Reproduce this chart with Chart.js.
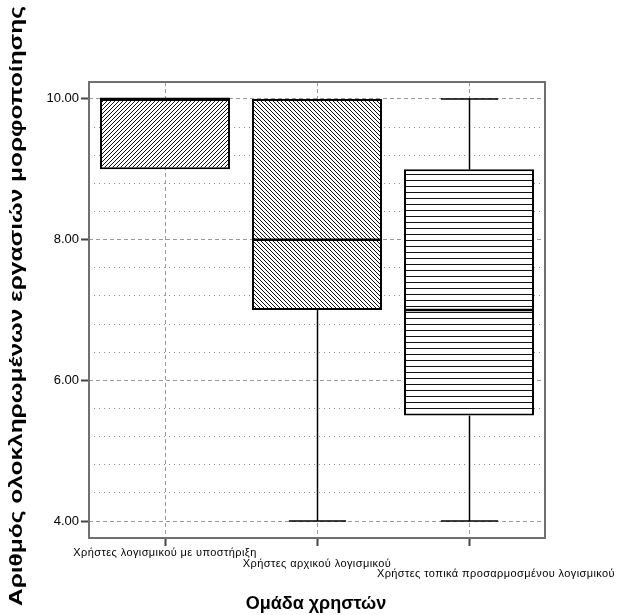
<!DOCTYPE html>
<html>
<head>
<meta charset="utf-8">
<script src="https://cdn.jsdelivr.net/npm/chart.js@4.4.1/dist/chart.umd.min.js"></script>
<style>
  html, body { margin: 0; padding: 0; background: #fff; }
  #wrap { width: 622px; height: 615px; }
</style>
</head>
<body>
<div id="wrap"><canvas id="boxplot" width="622" height="615"></canvas></div>
<script>
// groups and five-number summaries
const groups = ['Χρήστες λογισμικού με υποστήριξη', 'Χρήστες αρχικού λογισμικού', 'Χρήστες τοπικά προσαρμοσμένου λογισμικού'];
const minValues = [9, 4, 4];
const q1Values = [9, 7, 5.5];
const medianValues = [10, 8, 7];
const q3Values = [10, 10, 9];
const maxValues = [10, 10, 10];
const yMajorTicks = [4, 6, 8, 10];
const yMinorTicks = [4.4, 4.8, 5.2, 5.6, 6.4, 6.8, 7.2, 7.6, 8.4, 8.8, 9.2, 9.6];

const yTitle = 'Αριθμός ολοκληρωμένων εργασιών μορφοποίησης';
const xTitle = 'Ομάδα χρηστών';

// hatch fills for the boxes
function makePattern(kind) {
    const c = document.createElement('canvas');
    const g = c.getContext('2d');
    if (kind === 'h') {
        c.width = 1; c.height = 6;
        g.fillStyle = '#fff'; g.fillRect(0, 0, 1, 6);
        g.fillStyle = '#111'; g.fillRect(0, 0, 1, 1);
    } else {
        c.width = 4; c.height = 4;
        g.fillStyle = '#fff'; g.fillRect(0, 0, 4, 4);
        g.fillStyle = '#111';
        for (let i = 0; i < 4; i++) {
            g.fillRect(i, kind === '/' ? 3 - i : i, 1, 1);
        }
    }
    return g.createPattern(c, 'repeat');
}
const fills = [makePattern('/'), makePattern('\\'), makePattern('h')];

const boxExtras = {
    id: 'boxExtras',
    beforeDatasetsDraw(chart) {
        const { ctx, chartArea: a } = chart;
        ctx.save();
        ctx.strokeStyle = '#707070';
        ctx.lineWidth = 2;
        ctx.strokeRect(a.left, a.top, a.right - a.left, a.bottom - a.top);
        ctx.restore();
    },
    afterDatasetsDraw(chart) {
        const ctx = chart.ctx;
        const y = chart.scales.y;
        const bars = chart.getDatasetMeta(0).data;
        ctx.save();
        ctx.strokeStyle = '#000';
        bars.forEach((bar, i) => {
            const x = Math.round(bar.x) + 0.5;
            const half = bar.width / 2;
            const cap = bar.width * 0.22;
            const line = (x1, y1, x2, y2) => {
                ctx.beginPath(); ctx.moveTo(x1, y1); ctx.lineTo(x2, y2); ctx.stroke();
            };
            ctx.lineWidth = 1.5;
            if (maxValues[i] > q3Values[i]) {
                const yMax = y.getPixelForValue(maxValues[i]);
                line(x, y.getPixelForValue(q3Values[i]), x, yMax);
                line(x - cap, yMax, x + cap, yMax);
            }
            if (minValues[i] < q1Values[i]) {
                const yMin = y.getPixelForValue(minValues[i]);
                line(x, y.getPixelForValue(q1Values[i]), x, yMin);
                line(x - cap, yMin, x + cap, yMin);
            }
            ctx.lineWidth = 2.5;
            const yMed = y.getPixelForValue(medianValues[i]);
            line(bar.x - half, yMed, bar.x + half, yMed);
        });
        ctx.restore();
    },
    afterDraw(chart) {
        const ctx = chart.ctx;
        const xs = chart.scales.x;
        ctx.save();
        ctx.fillStyle = '#000';
        ctx.textBaseline = 'middle';
        // staggered category names
        ctx.font = '11px "Liberation Sans", Arial, sans-serif';
        ctx.letterSpacing = '0.4px';
        groups.forEach((g, i) => {
            const cx = xs.getPixelForValue(i);
            const yy = 553 + i * 10.5;
            if (i === groups.length - 1) {
                ctx.textAlign = 'right';
                ctx.fillText(g, chart.width - 7, yy);
            } else {
                ctx.textAlign = 'center';
                ctx.fillText(g, cx, yy);
            }
        });
        ctx.letterSpacing = '0px';
        // x title
        ctx.textAlign = 'center';
        ctx.font = 'bold 18px "Liberation Sans", Arial, sans-serif';
        ctx.fillText(xTitle, 316, 604);
        // y title, stretched over the height as in the picture
        ctx.translate(17, 306);
        ctx.rotate(-Math.PI / 2);
        ctx.font = 'bold 19px "Liberation Sans", Arial, sans-serif';
        const w = ctx.measureText(yTitle).width;
        ctx.scale(600 / w, 1);
        ctx.fillText(yTitle, 0, 0);
        ctx.restore();
    }
};

new Chart(document.getElementById('boxplot'), {
    type: 'bar',
    data: {
        labels: groups,
        datasets: [{
            data: groups.map((g, i) => [q1Values[i], q3Values[i]]),
            backgroundColor: fills,
            borderColor: '#000',
            borderWidth: 2,
            borderSkipped: false,
            barPercentage: 0.855,
            categoryPercentage: 1
        }]
    },
    options: {
        responsive: false,
        animation: false,
        layout: { padding: { left: 0, top: 82, right: 77, bottom: 0 } },
        plugins: { legend: { display: false }, tooltip: { enabled: false } },
        scales: {
            x: {
                offset: true,
                afterFit: s => { s.height = 77; },
                ticks: { display: false },
                border: { display: false, dash: [4, 3] },
                grid: {
                    offset: false,
                    color: '#9a9a9a',
                    tickColor: '#444',
                    tickWidth: 2,
                    tickLength: 8
                }
            },
            y: {
                min: 3.76,
                max: 10.24,
                afterFit: s => { s.width = 89; },
                afterBuildTicks: s => {
                    s.ticks = [...yMajorTicks, ...yMinorTicks].sort((a, b) => a - b).map(v => ({ value: v }));
                },
                ticks: {
                    padding: 2,
                    color: '#000',
                    font: { family: '"Liberation Sans", Arial, sans-serif', size: 13 },
                    callback: v => yMajorTicks.includes(v) ? v.toFixed(2) : ''
                },
                border: {
                    display: false,
                    dash: c => yMajorTicks.includes(c.tick && c.tick.value) ? [4, 3] : [1, 4]
                },
                grid: {
                    color: c => yMajorTicks.includes(c.tick && c.tick.value) ? '#9a9a9a' : '#8a8a8a',
                    tickColor: c => yMajorTicks.includes(c.tick && c.tick.value) ? '#444' : 'rgba(0,0,0,0)',
                    tickWidth: 2,
                    tickLength: 8
                }
            }
        }
    },
    plugins: [boxExtras]
});
</script>
</body>
</html>
